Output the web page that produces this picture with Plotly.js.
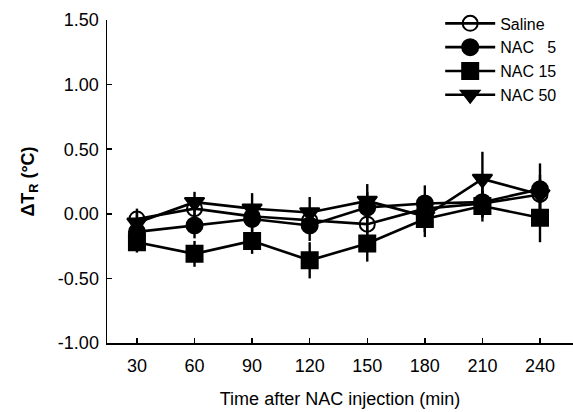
<!DOCTYPE html>
<html>
<head>
<meta charset="utf-8">
<script src="https://cdn.plot.ly/plotly-3.0.1.min.js"></script>
<style>html,body{margin:0;padding:0;background:#fff;}#chart{width:573px;height:412px;}</style>
</head>
<body>
<div id="chart"></div>
<script>
const times = [30, 60, 90, 120, 150, 180, 210, 240];
const seriesNames = ["Saline", "NAC   5", "NAC 15", "NAC 50"];
const saline = [-0.04, 0.04, -0.02, -0.05, -0.08, 0.04, 0.08, 0.15];
const salineErr = [0.08, 0.07, 0.08, 0.08, 0.10, 0.10, 0.10, 0.12];
const nac5 = [-0.14, -0.09, -0.04, -0.09, 0.05, 0.08, 0.09, 0.19];
const nac5Err = [0.10, 0.10, 0.10, 0.12, 0.12, 0.14, 0.12, 0.20];
const nac15 = [-0.22, -0.31, -0.21, -0.36, -0.23, -0.04, 0.06, -0.03];
const nac15Err = [0.08, 0.10, 0.10, 0.14, 0.14, 0.14, 0.12, 0.19];
const nac50 = [-0.07, 0.09, 0.04, 0.01, 0.10, -0.02, 0.27, 0.15];
const nac50Err = [0.08, 0.08, 0.12, 0.12, 0.13, 0.12, 0.21, 0.15];
const xTicks = [30, 60, 90, 120, 150, 180, 210, 240];
const yTicks = [-1.0, -0.5, 0, 0.5, 1.0, 1.5];
const yTickText = ["-1.00", "-0.50", "0.00", "0.50", "1.00", "1.50"];

const values = [saline, nac5, nac15, nac50];
const errs = [salineErr, nac5Err, nac15Err, nac50Err];
const symbols = ["circle-open", "circle", "square", "triangle-down"];
const sizes = [15, 16, 16, 17];

const traces = values.map((v, i) => ({
  x: times, y: v, name: seriesNames[i], type: "scatter", mode: "lines+markers",
  line: {color: "#000", width: 2.6},
  marker: {symbol: symbols[i], size: sizes[i], color: "#000", line: {color: "#000", width: 2}},
  error_y: {type: "data", array: errs[i], visible: true, color: "#000", thickness: 2.4, width: 0}
}));

const fam = "Liberation Sans, Arial, sans-serif";
const font = {family: fam, size: 18, color: "#000"};
const layout = {
  width: 573, height: 412,
  margin: {l: 107, r: 0, t: 20, b: 69},
  paper_bgcolor: "#fff", plot_bgcolor: "#fff",
  font: font,
  showlegend: true,
  legend: {x: 0.715, y: 1.042, xanchor: "left", yanchor: "top", bgcolor: "rgba(0,0,0,0)",
    font: {family: fam, size: 16, color: "#000"},
    tracegroupgap: 0, itemwidth: 50},
  xaxis: {range: [14.4, 257.2], tickvals: xTicks, ticktext: xTicks.map(String),
    ticks: "inside", ticklen: 5, tickwidth: 1.5, tickcolor: "#000",
    showline: true, linecolor: "#000", linewidth: 1.5, showgrid: false, zeroline: false,
    tickfont: font, ticklabelstandoff: 6,
    title: {text: "Time after NAC injection (min)", font: font, standoff: 17}},
  yaxis: {range: [-1.0, 1.5], tickvals: yTicks, ticktext: yTickText,
    ticks: "inside", ticklen: 5, tickwidth: 1.5, tickcolor: "#000",
    showline: true, linecolor: "#000", linewidth: 1.5, showgrid: false, zeroline: false,
    tickfont: font, ticklabelstandoff: 3,
    title: {text: "<b>ΔT<sub>R</sub> (°C)</b>", font: {family: fam, size: 18, color: "#000"}, standoff: 18}}
};
Plotly.newPlot("chart", traces, layout, {displayModeBar: false, staticPlot: true});
</script>
</body>
</html>
